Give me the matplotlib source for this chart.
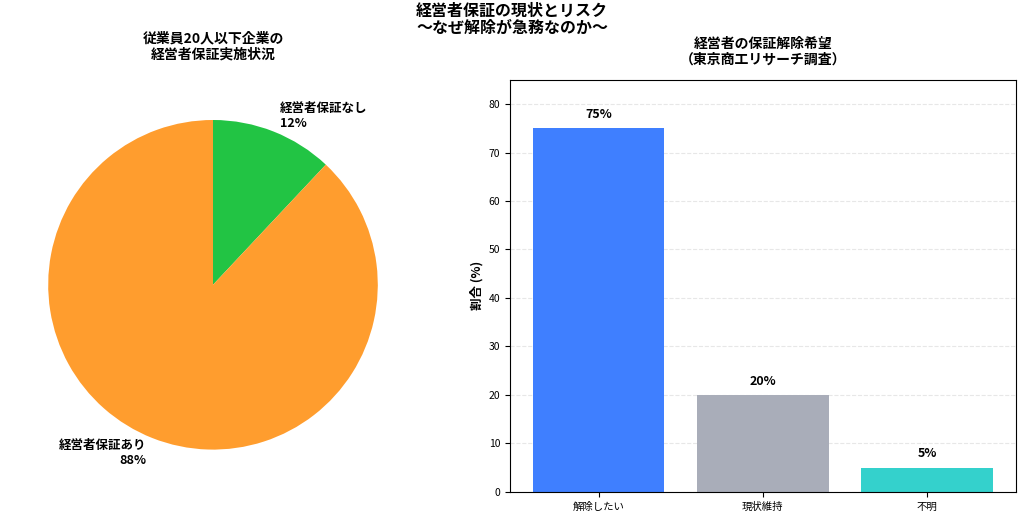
import matplotlib
matplotlib.use("Agg")
import matplotlib.pyplot as plt

plt.rcParams["font.family"] = "Noto Sans CJK JP"

pie_labels = ["経営者保証なし", "経営者保証あり"]
pie_values = [12, 88]
pie_colors = ["#22c444", "#ff9d2e"]

bar_cats = ["解除したい", "現状維持", "不明"]
bar_values = [75, 20, 5]
bar_colors = ["#3f7fff", "#a9adb9", "#34d1cc"]

fig = plt.figure(figsize=(10.24, 5.15), dpi=100)
fig.suptitle("経営者保証の現状とリスク\n〜なぜ解除が急務なのか〜",
             fontsize=11.5, fontweight="bold", y=0.995, linespacing=1.1)

# left: pie
ax1 = fig.add_axes([-0.007, 0.047, 0.43, 0.80])
labels = [f"{l}\n{v}%" for l, v in zip(pie_labels, pie_values)]
wedges, texts = ax1.pie(pie_values, colors=pie_colors, startangle=90,
                        counterclock=False, labels=labels, labeldistance=1.1,
                        textprops={"fontsize": 9, "fontweight": "bold"})
ax1.set_aspect("equal")
fig.text(0.208, 0.91, "従業員20人以下企業の\n経営者保証実施状況", ha="center", va="center",
         fontsize=10, fontweight="bold", linespacing=1.15)

# right: bars
ax2 = fig.add_axes([0.498, 0.045, 0.494, 0.8])
bars = ax2.bar(bar_cats, bar_values, color=bar_colors, width=0.8)
for b, v in zip(bars, bar_values):
    ax2.text(b.get_x() + b.get_width() / 2, v + 1.5, f"{v}%",
             ha="center", va="bottom", fontsize=9, fontweight="bold")
ax2.set_ylim(0, 85)
ax2.set_ylabel("割合 (%)", fontsize=9, fontweight="bold")
ax2.tick_params(labelsize=7.5)
ax2.grid(axis="y", linestyle="--", alpha=0.3)
ax2.set_axisbelow(True)
ax2.set_title("経営者の保証解除希望\n（東京商工リサーチ調査）", fontsize=10,
              fontweight="bold", pad=12, linespacing=1.15)

fig.savefig("out.png", dpi=100)
